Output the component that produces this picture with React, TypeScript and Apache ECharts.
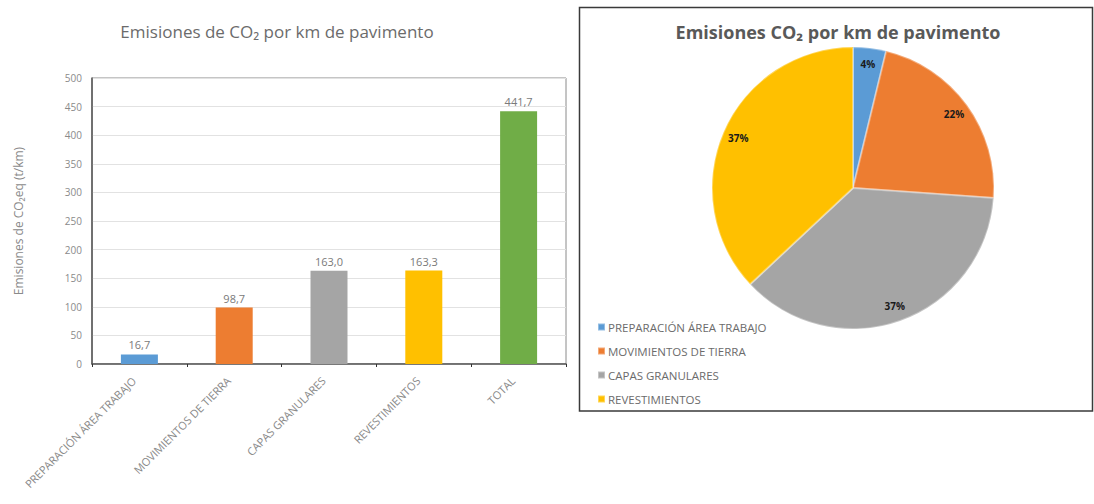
import React, { useEffect, useRef } from "react";
import * as echarts from "echarts";

const barCategories = [
  "PREPARACIÓN ÁREA TRABAJO",
  "MOVIMIENTOS DE TIERRA",
  "CAPAS GRANULARES",
  "REVESTIMIENTOS",
  "TOTAL",
];
const barValues = [16.7, 98.7, 163.0, 163.3, 441.7];
const barColors = ["#5B9BD5", "#ED7D31", "#A5A5A5", "#FFC000", "#70AD47"];

const pieCategories = [
  "PREPARACIÓN ÁREA TRABAJO",
  "MOVIMIENTOS DE TIERRA",
  "CAPAS GRANULARES",
  "REVESTIMIENTOS",
];
const pieValues = [16.7, 98.7, 163.0, 163.3];
const pieColors = ["#5B9BD5", "#ED7D31", "#A5A5A5", "#FFC000"];

const barTitle = "Emisiones de CO₂ por km de pavimento";
const pieTitle = "Emisiones CO₂ por km de pavimento";
const yAxisTitle = "Emisiones de CO₂eq (t/km)";

const FONT = "'Open Sans', 'Noto Sans', sans-serif";

export default function App() {
  const ref = useRef<HTMLDivElement>(null);

  useEffect(() => {
    if (!ref.current) return;
    const chart = echarts.init(ref.current, undefined, { renderer: "svg" });
    const total = pieValues.reduce((a, b) => a + b, 0);
    const pieData = pieCategories.map((name, i) => ({
      name,
      value: pieValues[i],
      itemStyle: { color: pieColors[i] },
    }));

    const option: any = {
      animation: false,
      backgroundColor: "#ffffff",
      textStyle: { fontFamily: FONT },
      graphic: [
        {
          type: "rect",
          z: -10,
          shape: { x: 579.5, y: 7.5, width: 513, height: 403.5 },
          style: { fill: "#ffffff", stroke: "#3a3a3a", lineWidth: 1.5 },
        },
        {
          type: "text",
          x: 277,
          y: 31,
          style: {
            text: barTitle,
            textAlign: "center",
            textVerticalAlign: "middle",
            fill: "#6b6b6b",
            fontSize: 17,
            fontFamily: FONT,
          },
        },
        {
          type: "text",
          x: 838,
          y: 32,
          style: {
            text: pieTitle,
            textAlign: "center",
            textVerticalAlign: "middle",
            fill: "#595959",
            fontSize: 18,
            fontWeight: "bold",
            fontFamily: FONT,
          },
        },
      ],
      grid: {
        left: 92,
        top: 78,
        width: 474,
        height: 286,
        show: true,
        borderColor: "#8a8a8a",
        borderWidth: 1,
        containLabel: false,
      },
      xAxis: {
        type: "category",
        data: barCategories,
        axisLine: { lineStyle: { color: "#555", width: 1.5 } },
        axisTick: { show: true, length: 3, lineStyle: { color: "#333" } },
        axisLabel: {
          interval: 0,
          rotate: 45,
          fontSize: 11,
          color: "#8a8a8a",
          margin: 9,
          padding: [0, 8, 0, 0],
        },
      },
      yAxis: {
        type: "value",
        min: 0,
        max: 500,
        interval: 50,
        name: yAxisTitle,
        nameLocation: "middle",
        nameGap: 68,
        nameTextStyle: { fontSize: 12, color: "#8a8a8a" },
        axisLine: { show: true, lineStyle: { color: "#555", width: 1.5 } },
        axisTick: { show: false },
        axisLabel: { fontSize: 10, color: "#8a8a8a", margin: 10 },
        splitLine: { lineStyle: { color: "#e2e2e2" } },
      },
      legend: {
        orient: "vertical",
        left: 592,
        top: 315,
        itemWidth: 7,
        itemHeight: 7,
        itemGap: 10,
        icon: "rect",
        data: pieCategories,
        textStyle: { fontSize: 11.5, color: "#6b6b6b", lineHeight: 14, padding: [0, 0, 0, -2] },
      },
      series: [
        {
          type: "bar",
          data: barValues.map((v, i) => ({ value: v, itemStyle: { color: barColors[i] } })),
          barWidth: 37,
          label: {
            show: true,
            position: "top",
            distance: 4,
            fontSize: 11,
            color: "#7a7a7a",
            formatter: (p: any) => Number(p.value).toFixed(1).replace(".", ","),
          },
        },
        {
          type: "pie",
          center: [853, 188],
          radius: [0, 141],
          startAngle: 90,
          clockwise: true,
          data: pieData,
          label: { show: false },
          labelLine: { show: false },
          itemStyle: { borderColor: "rgba(255,255,255,0.35)", borderWidth: 2 },
          emphasis: { disabled: true },
        },
        {
          type: "pie",
          center: [853, 188],
          radius: [104, 140],
          startAngle: 90,
          clockwise: true,
          silent: true,
          data: pieData.map((d) => ({ ...d, itemStyle: { color: "rgba(0,0,0,0)" } })),
          itemStyle: { color: "rgba(0,0,0,0)" },
          label: {
            show: true,
            position: "inside",
            fontSize: 10,
            fontWeight: "bold",
            color: "#1a1a1a",
            formatter: (p: any) => Math.round((p.value / total) * 100) + "%",
          },
          labelLine: { show: false },
          emphasis: { disabled: true },
        },
      ],
    };
    chart.setOption(option);
    return () => chart.dispose();
  }, []);

  return (
    <div
      ref={ref}
      style={{ position: "fixed", left: 0, top: 0, width: 1094, height: 504 }}
    />
  );
}
